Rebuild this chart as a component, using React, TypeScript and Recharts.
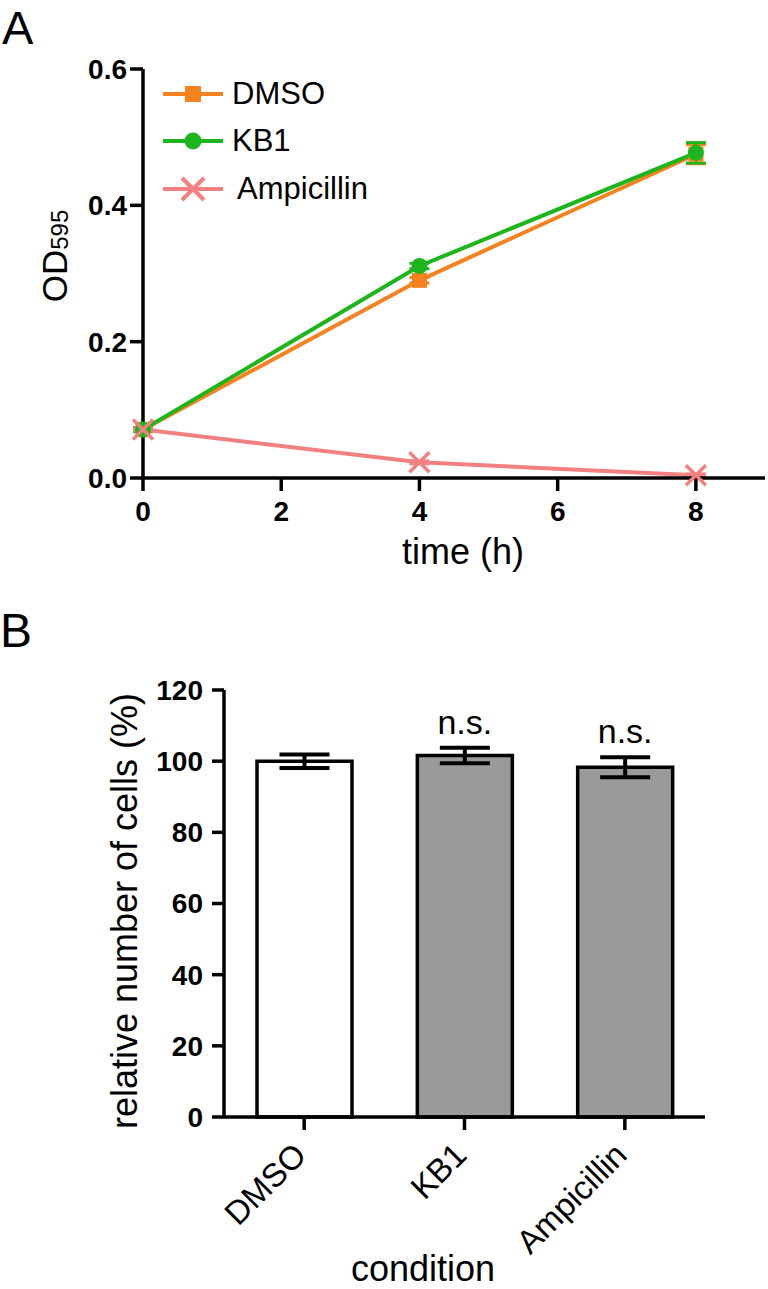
import React from "react";
import {
  Bar,
  BarChart,
  ErrorBar,
  Label,
  LabelList,
  Legend,
  Line,
  LineChart,
  XAxis,
  YAxis,
  Cell,
} from "recharts";

const FONT = '"Liberation Sans", Arial, Helvetica, sans-serif';
const ORANGE = "#f5821f";
const GREEN = "#1cb51c";
const PINK = "#f38080";

// panel A: growth curves
const timeHours = [0, 4, 8];
const dmsoOD = [0.071, 0.29, 0.475];
const dmsoErr = [0.003, 0.004, 0.014];
const kb1OD = [0.071, 0.311, 0.477];
const kb1Err = [0.003, 0.004, 0.015];
const ampOD = [0.071, 0.023, 0.004];
const ampErr = [0.002, 0.002, 0.002];
const timeTicks = [0, 2, 4, 6, 8];
const odTicks = [0, 0.2, 0.4, 0.6];
const seriesNames = ["DMSO", "KB1", "Ampicillin"];

// panel B: cell counts
const conditions = ["DMSO", "KB1", "Ampicillin"];
const relCells = [100, 101.6, 98.3];
const relCellsErr = [1.9, 2.2, 2.8];
const significance = ["", "n.s.", "n.s."];
const barFills = ["#ffffff", "#9a9a9a", "#9a9a9a"];
const cellTicks = [0, 20, 40, 60, 80, 100, 120];

const growthData = timeHours.map((t, i) => ({
  time: t,
  dmso: dmsoOD[i],
  dmsoErr: dmsoErr[i],
  kb1: kb1OD[i],
  kb1Err: kb1Err[i],
  amp: ampOD[i],
  ampErr: ampErr[i],
}));

const cellData = conditions.map((c, i) => ({
  condition: c,
  value: relCells[i],
  err: relCellsErr[i],
  sig: significance[i],
}));

const tickStyle = { fontSize: 28, fontWeight: 700, fill: "#000", fontFamily: FONT };

function SquareDot(props: any) {
  const { cx, cy } = props;
  if (cx == null || cy == null) return null;
  return <rect x={cx - 7.5} y={cy - 7.5} width={15} height={15} fill={ORANGE} />;
}

function CircleDot(props: any) {
  const { cx, cy } = props;
  if (cx == null || cy == null) return null;
  return <circle cx={cx} cy={cy} r={8} fill={GREEN} />;
}

function CrossDot(props: any) {
  const { cx, cy } = props;
  if (cx == null || cy == null) return null;
  const s = 10;
  return (
    <g stroke={PINK} strokeWidth={3.5}>
      <line x1={cx - s} y1={cy - s} x2={cx + s} y2={cy + s} />
      <line x1={cx - s} y1={cy + s} x2={cx + s} y2={cy - s} />
    </g>
  );
}

function LegendIcon({ kind, color }: { kind: number; color: string }) {
  return (
    <svg width={69} height={30} style={{ display: "block" }}>
      <line x1={0} y1={15} x2={60} y2={15} stroke={color} strokeWidth={4} />
      {kind === 0 && <rect x={22} y={7} width={16} height={16} fill={color} />}
      {kind === 1 && <circle cx={30} cy={15} r={8.5} fill={color} />}
      {kind === 2 && (
        <g stroke={color} strokeWidth={4}>
          <line x1={19} y1={4} x2={41} y2={26} />
          <line x1={19} y1={26} x2={41} y2={4} />
        </g>
      )}
    </svg>
  );
}

function GrowthLegend() {
  const colors = [ORANGE, GREEN, PINK];
  return (
    <div style={{ fontFamily: FONT, fontSize: 31, color: "#000" }}>
      {seriesNames.map((name, i) => (
        <div key={name} style={{ display: "flex", alignItems: "center", height: 47.5 }}>
          <LegendIcon kind={i} color={colors[i]} />
          <span style={{ marginLeft: i === 2 ? 5 : 0 }}>{name}</span>
        </div>
      ))}
    </div>
  );
}

function ConditionTick(props: any) {
  const { x, y, payload } = props;
  const ax = x + 4;
  const ay = y + 25;
  return (
    <text
      x={ax}
      y={ay}
      transform={`rotate(-45 ${ax} ${ay})`}
      textAnchor="end"
      fontSize={33}
      fontFamily={FONT}
      fill="#000"
    >
      {payload.value}
    </text>
  );
}

function SigLabel(props: any) {
  const { x, y, width, height, index } = props;
  const text = significance[index];
  if (!text) return null;
  const perUnit = height / relCells[index];
  const top = y - relCellsErr[index] * perUnit;
  return (
    <text x={x + width / 2} y={top - 14} textAnchor="middle" fontSize={34} fontFamily={FONT} fill="#000">
      {text}
    </text>
  );
}

export default function App() {
  return (
    <div
      style={{
        position: "absolute",
        left: 0,
        top: 0,
        width: 768,
        height: 1289,
        background: "#fff",
        fontFamily: FONT,
        overflow: "hidden",
      }}
    >
      <svg width={768} height={1289} style={{ position: "absolute", left: 0, top: 0 }}>
        <text x={2} y={44} fontSize={47} fontFamily={FONT} fill="#000">A</text>
        <text x={0} y={647} fontSize={48} fontFamily={FONT} fill="#000">B</text>
      </svg>

      <div style={{ position: "absolute", left: 0, top: 0 }}>
        <LineChart width={768} height={580} data={growthData} margin={{ top: 69, right: 3, left: 83, bottom: 62 }}>
          <XAxis
            dataKey="time"
            type="number"
            domain={[0, 9]}
            ticks={timeTicks}
            height={40}
            axisLine={{ stroke: "#000", strokeWidth: 3.5 }}
            tickLine={{ stroke: "#000", strokeWidth: 3.5 }}
            tickSize={13}
            tickMargin={10}
            tick={tickStyle}
          >
            <Label
              content={() => (
                <text x={463} y={564} textAnchor="middle" fontSize={36} fontFamily={FONT} fill="#000">
                  time (h)
                </text>
              )}
            />
          </XAxis>
          <YAxis
            type="number"
            domain={[0, 0.6]}
            ticks={odTicks}
            width={60}
            axisLine={{ stroke: "#000", strokeWidth: 3.5 }}
            tickLine={{ stroke: "#000", strokeWidth: 3.5 }}
            tickSize={13}
            tickMargin={3}
            tick={tickStyle}
            tickFormatter={(v: number) => v.toFixed(1)}
          >
            <Label
              content={() => (
                <text
                  x={67}
                  y={256}
                  transform="rotate(-90 67 256)"
                  textAnchor="middle"
                  fontFamily={FONT}
                  fill="#000"
                >
                  <tspan fontSize={35}>OD</tspan>
                  <tspan fontSize={24} dy={1}>595</tspan>
                </text>
              )}
            />
          </YAxis>
          <Legend
            layout="vertical"
            align="center"
            verticalAlign="middle"
            content={() => <GrowthLegend />}
            wrapperStyle={{ left: 163, top: 70, width: 260, height: 150 }}
          />
          <Line
            dataKey="dmso"
            name={seriesNames[0]}
            stroke={ORANGE}
            strokeWidth={4}
            dot={<SquareDot />}
            isAnimationActive={false}
          >
            <ErrorBar dataKey="dmsoErr" direction="y" width={10} stroke={ORANGE} strokeWidth={3} />
          </Line>
          <Line
            dataKey="kb1"
            name={seriesNames[1]}
            stroke={GREEN}
            strokeWidth={4}
            dot={<CircleDot />}
            isAnimationActive={false}
          >
            <ErrorBar dataKey="kb1Err" direction="y" width={10} stroke={GREEN} strokeWidth={3} />
          </Line>
          <Line
            dataKey="amp"
            name={seriesNames[2]}
            stroke={PINK}
            strokeWidth={4}
            dot={<CrossDot />}
            isAnimationActive={false}
          >
            <ErrorBar dataKey="ampErr" direction="y" width={10} stroke={PINK} strokeWidth={3} />
          </Line>
        </LineChart>
      </div>

      <div style={{ position: "absolute", left: 0, top: 580 }}>
        <BarChart
          width={768}
          height={709}
          data={cellData}
          margin={{ top: 110, right: 63, left: 144, bottom: 112 }}
          barCategoryGap="20%"
        >
          <XAxis
            dataKey="condition"
            height={60}
            axisLine={{ stroke: "#000", strokeWidth: 3.5 }}
            tickLine={{ stroke: "#000", strokeWidth: 3.5 }}
            tickSize={13}
            tickMargin={2}
            interval={0}
            tick={<ConditionTick />}
          >
            <Label
              content={() => (
                <text x={423} y={701} textAnchor="middle" fontSize={36} fontFamily={FONT} fill="#000">
                  condition
                </text>
              )}
            />
          </XAxis>
          <YAxis
            type="number"
            domain={[0, 120]}
            ticks={cellTicks}
            width={80}
            axisLine={{ stroke: "#000", strokeWidth: 3.5 }}
            tickLine={{ stroke: "#000", strokeWidth: 3.5 }}
            tickSize={12}
            tickMargin={9}
            tick={tickStyle}
          >
            <Label
              content={() => (
                <text
                  x={137}
                  y={331}
                  transform="rotate(-90 137 331)"
                  textAnchor="middle"
                  fontSize={36}
                  fontFamily={FONT}
                  fill="#000"
                >
                  relative number of cells (%)
                </text>
              )}
            />
          </YAxis>
          <Bar dataKey="value" barSize={95} stroke="#000" strokeWidth={3.5} isAnimationActive={false}>
            {cellData.map((d, i) => (
              <Cell key={d.condition} fill={barFills[i]} />
            ))}
            <ErrorBar dataKey="err" direction="y" width={25} stroke="#000" strokeWidth={4} />
            <LabelList dataKey="sig" content={<SigLabel />} />
          </Bar>
        </BarChart>
      </div>
    </div>
  );
}
